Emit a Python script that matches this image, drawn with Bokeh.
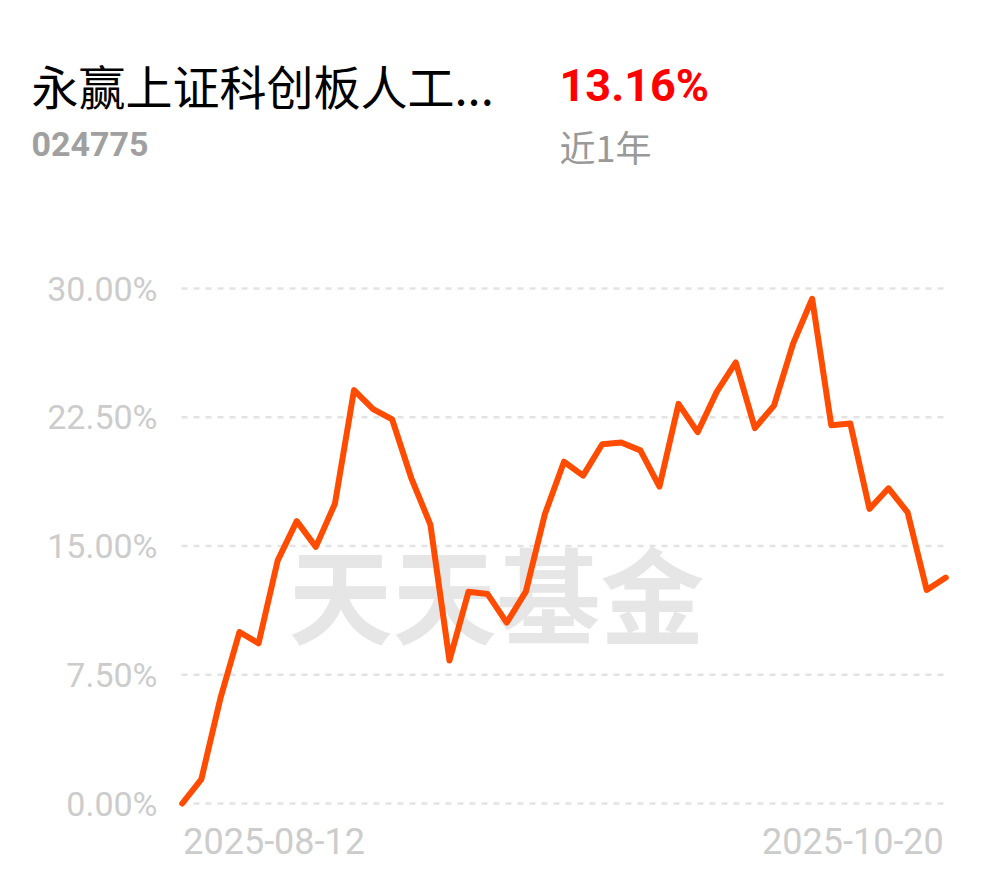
from bokeh.plotting import figure
from bokeh.models import Range1d
from bokeh.core.properties import value
from bokeh.embed import file_html
from bokeh.resources import INLINE

# ---- data ----
fund_name = "永赢上证科创板人工..."
fund_code = "024775"
period_return = "13.16%"
period_label = "近1年"
start_date = "2025-08-12"
end_date = "2025-10-20"
y_ticks = [0, 7.5, 15, 22.5, 30]
returns = [0.00, 1.40, 6.12, 9.99, 9.33, 14.15, 16.45, 14.95, 17.46, 24.08,
           22.98, 22.37, 18.96, 16.25, 8.33, 12.34, 12.20, 10.54, 12.34, 16.86,
           19.91, 19.10, 20.93, 21.03, 20.57, 18.46, 23.28, 21.63, 23.98, 25.69,
           21.87, 23.18, 26.79, 29.40, 22.03, 22.13, 17.16, 18.36, 16.96, 12.44,
           13.16]
idx = list(range(len(returns)))
y_labels = ["%.2f%%" % t for t in y_ticks]

# ---- layout (pixel geometry of the plotting area) ----
W, H = 974, 862
PX_LEFT, PX_RIGHT = 181.7, 945.3     # first / last point
PX_ZERO, PX_TOP = 803.0, 288.0       # 0% and 30% lines
ppx = (PX_RIGHT - PX_LEFT) / (len(returns) - 1)
ppy = (PX_ZERO - PX_TOP) / (y_ticks[-1] - y_ticks[0])


def X(px):
    return (px - PX_LEFT) / ppx


def Y(py):
    return (PX_ZERO - py) / ppy


p = figure(width=W, height=H, output_backend="svg", toolbar_location=None,
           x_range=Range1d(X(0), X(W)), y_range=Range1d(Y(H), Y(0)),
           x_axis_location=None, y_axis_location=None,
           min_border=0, min_border_left=0, min_border_right=0,
           min_border_top=0, min_border_bottom=0)
p.outline_line_color = None
p.background_fill_color = "white"
p.border_fill_color = "white"
p.xgrid.visible = False
p.ygrid.visible = False

# dashed grid lines
p.segment(x0=[X(181)] * len(y_ticks), x1=[X(944)] * len(y_ticks),
          y0=y_ticks, y1=y_ticks, line_color="#e3e3e3", line_width=2.5,
          line_dash="6 6")

# y tick labels
p.text(x=[X(157)] * len(y_ticks), y=y_ticks, text=y_labels,
       text_font=value("Roboto"), text_font_size="34px", text_color="#cccccc",
       text_align="right", text_baseline="middle")

# watermark
p.text(x=[X(496)], y=[Y(591)], text=["天天基金"], text_font=value("Noto Sans CJK SC"),
       text_font_size="104px", text_font_style="bold", text_color="#e6e6e6",
       text_align="center", text_baseline="middle")

p.line(idx, returns, line_color="#ff4c00", line_width=6,
       line_join="round", line_cap="round")

# date labels
p.text(x=[idx[0]], y=[Y(840)], text=[start_date], x_offset=1,
       text_align="left", text_baseline="middle", text_font=value("Roboto"),
       text_font_size="36px", text_color="#cccccc")
p.text(x=[idx[-1]], y=[Y(840)], text=[end_date], x_offset=-2,
       text_align="right", text_baseline="middle", text_font=value("Roboto"),
       text_font_size="36px", text_color="#cccccc")

# header
p.text(x=[X(31)], y=[Y(84)], text=[fund_name], text_align="left",
       text_baseline="middle", text_font=value("Noto Sans CJK SC"),
       text_font_size="47px", text_color="#000000")
p.text(x=[X(559)], y=[Y(85)], text=[period_return], text_align="left",
       text_baseline="middle", text_font=value("Roboto"),
       text_font_style="bold", text_font_size="45px", text_color="#ff0000")
p.text(x=[X(31)], y=[Y(143)], text=[fund_code], text_align="left",
       text_baseline="middle", text_font=value("Roboto"),
       text_font_style="bold", text_font_size="34px", text_color="#a0a0a0")
p.text(x=[X(559)], y=[Y(145)], text=[period_label], text_align="left",
       text_baseline="middle", text_font=value("Noto Sans CJK SC"),
       text_font_size="36px", text_color="#999999")

open("out.html", "w").write(file_html(p, INLINE))
